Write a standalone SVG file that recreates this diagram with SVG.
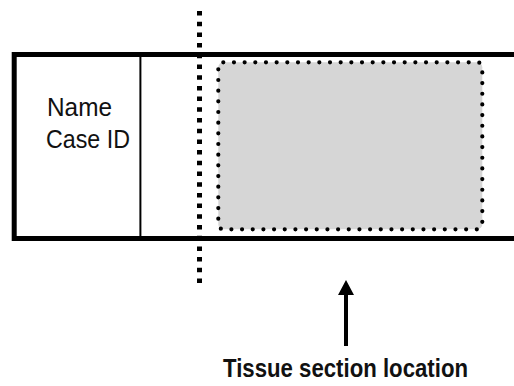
<svg xmlns="http://www.w3.org/2000/svg" width="514" height="386" viewBox="0 0 514 386">
<style>
.lbl{font-family:"Liberation Sans",Arial,sans-serif;font-size:25px;fill:#111}
.cap{font-family:"Liberation Sans",Arial,sans-serif;font-size:25px;font-weight:bold;fill:#111}
</style>
<defs>
<marker id="arr" viewBox="0 0 15 16" refX="0" refY="8" markerWidth="15" markerHeight="16" markerUnits="userSpaceOnUse" orient="auto">
<path d="M0 0 L15 8 L0 16 Z" fill="#000"/>
</marker>
</defs>
<rect width="514" height="386" fill="#fff"/>
<g id="slide">
<path d="M514 54.5 H14.2 V238.5 H514" fill="none" stroke="#000" stroke-width="5"/>
</g>
<g id="label-area">
<line x1="140.4" y1="55" x2="140.4" y2="238" stroke="#000" stroke-width="2"/>
<text class="lbl" x="47" y="116" textLength="65" lengthAdjust="spacingAndGlyphs">Name</text>
<text class="lbl" x="46" y="148" textLength="84" lengthAdjust="spacingAndGlyphs">Case ID</text>
</g>
<g id="tissue-section">
<rect x="218.3" y="62.3" width="264" height="167" rx="5" fill="#d6d6d6" stroke="#000" stroke-width="4.2" stroke-linecap="round" stroke-dasharray="0 10.67"/>
</g>
<g id="cut-line">
<line x1="199.5" y1="11" x2="199.5" y2="284" stroke="#000" stroke-width="5" stroke-dasharray="4.5 6.2"/>
</g>
<g id="connectors">
<line x1="346" y1="346" x2="346" y2="295" stroke="#000" stroke-width="4" marker-end="url(#arr)"/>
</g>
<g id="caption">
<text class="cap" x="223" y="377" textLength="245" lengthAdjust="spacingAndGlyphs">Tissue section location</text>
</g>
</svg>
